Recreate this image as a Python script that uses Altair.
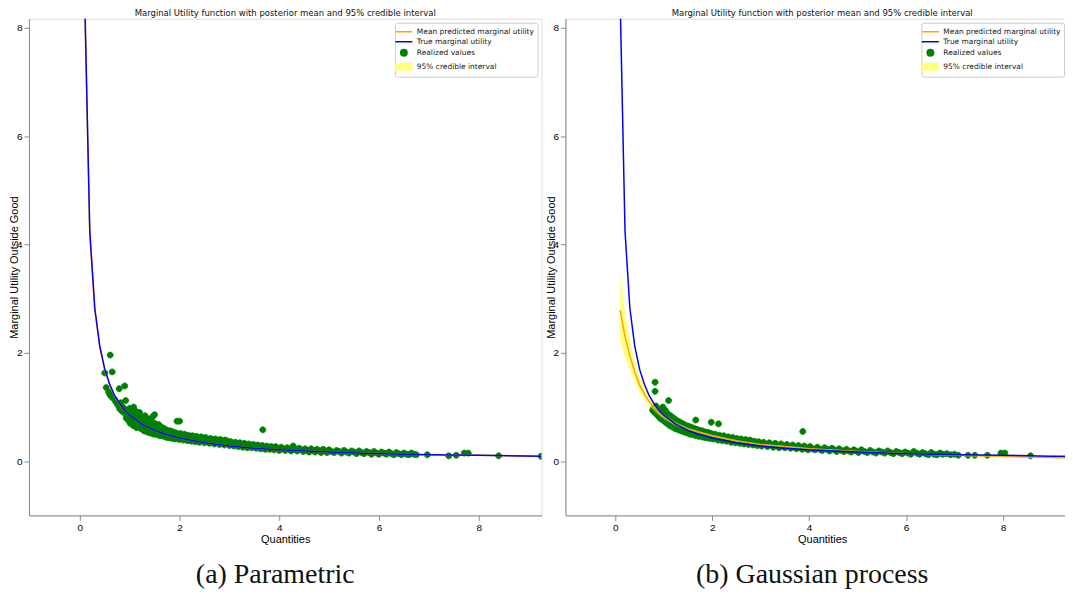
import altair as alt
import pandas as pd

TITLE = "Marginal Utility function with posterior mean and 95% credible interval"
SERIES = ["Mean predicted marginal utility", "True marginal utility",
          "Realized values", "95% credible interval"]
LEG_COLORS = ["#ffa500", "#0000ff", "#008000", "#ffff80"]
LINE_PATH = "M-1.7,0H1.7"
CIRC_PATH = "M0.64,0A0.64,0.64,0,1,1,-0.64,0A0.64,0.64,0,1,1,0.64,0Z"
RECT_PATH = "M-1.6,-0.65H1.6V0.65H-1.6Z"
SHAPES = [LINE_PATH, LINE_PATH, CIRC_PATH, RECT_PATH]
TICKS = [0, 2, 4, 6, 8]

# ---------------- (a) Parametric ----------------
left_curve_x = [0.1, 0.2, 0.3, 0.4, 0.5, 0.6, 0.7, 0.8, 0.9, 1.0, 1.25, 1.5, 1.75,
                2.0, 2.5, 3.0, 3.5, 4.0, 5.0, 6.0, 7.0, 8.0, 9.25]
left_true = [8.50, 4.25, 2.83, 2.13, 1.70, 1.42, 1.21, 1.06, 0.94, 0.85, 0.68, 0.57, 0.49,
             0.43, 0.34, 0.28, 0.24, 0.21, 0.17, 0.14, 0.12, 0.11, 0.09]
left_mean = [8.40, 4.21, 2.81, 2.11, 1.69, 1.41, 1.20, 1.05, 0.94, 0.85, 0.68, 0.57, 0.49,
             0.43, 0.34, 0.28, 0.24, 0.21, 0.17, 0.14, 0.12, 0.11, 0.09]
left_lo = [8.10, 4.08, 2.73, 2.06, 1.65, 1.38, 1.18, 1.03, 0.92, 0.83, 0.67, 0.56, 0.48,
           0.42, 0.335, 0.275, 0.235, 0.205, 0.165, 0.137, 0.117, 0.103, 0.087]
left_hi = [8.70, 4.34, 2.89, 2.16, 1.73, 1.44, 1.22, 1.07, 0.96, 0.87, 0.69, 0.58, 0.50,
           0.44, 0.345, 0.285, 0.245, 0.215, 0.175, 0.143, 0.123, 0.107, 0.093]
left_points = [
    (0.50, 1.63), (0.53, 1.36), (0.61, 1.96), (0.65, 1.65), (0.58, 1.28), (0.60, 1.24),
    (0.62, 1.21), (0.79, 1.34), (0.90, 1.39), (0.66, 1.17), (0.70, 1.14), (0.72, 1.10),
    (0.75, 1.06), (0.78, 1.02), (0.80, 0.97), (0.82, 1.08), (0.84, 0.93), (0.86, 1.00),
    (0.88, 0.90), (0.90, 0.96), (0.92, 1.12), (0.93, 0.80), (0.95, 0.88), (0.97, 0.76),
    (1.00, 0.98), (1.00, 0.84), (1.01, 0.70), (1.03, 0.92), (1.04, 0.78), (1.06, 0.86),
    (1.07, 0.66), (1.08, 1.00), (1.10, 0.74), (1.11, 0.82), (1.13, 0.92), (1.14, 0.62),
    (1.16, 0.76), (1.17, 0.84), (1.19, 0.68), (1.20, 0.90), (1.22, 0.72), (1.23, 0.60),
    (1.25, 0.80), (1.26, 0.66), (1.28, 0.74), (1.29, 0.56), (1.31, 0.84), (1.32, 0.64),
    (1.34, 0.70), (1.35, 0.54), (1.37, 0.78), (1.38, 0.60), (1.40, 0.66), (1.41, 0.52),
    (1.43, 0.74), (1.44, 0.58), (1.46, 0.82), (1.47, 0.63), (1.48, 0.50), (1.50, 0.86),
    (1.50, 0.70), (1.52, 0.56), (1.53, 0.64), (1.55, 0.49), (1.56, 0.60), (1.58, 0.68),
    (1.59, 0.53), (1.61, 0.47), (1.62, 0.58), (1.64, 0.63), (1.65, 0.51), (1.67, 0.55),
    (1.68, 0.46), (1.70, 0.60), (1.71, 0.50), (1.73, 0.54), (1.74, 0.44), (1.76, 0.57),
    (1.77, 0.48), (1.79, 0.52), (1.80, 0.43), (1.82, 0.56), (1.83, 0.47), (1.85, 0.50),
    (1.86, 0.42), (1.88, 0.54), (1.89, 0.46), (1.91, 0.49), (1.92, 0.41), (1.94, 0.52),
    (1.95, 0.74), (1.96, 0.45), (1.98, 0.48), (2.00, 0.74), (2.00, 0.40),
    (2.02, 0.51), (2.04, 0.44), (2.06, 0.47), (2.08, 0.39), (2.10, 0.50), (2.12, 0.43),
    (2.14, 0.46), (2.16, 0.38), (2.18, 0.48), (2.20, 0.42), (2.22, 0.45), (2.24, 0.37),
    (2.26, 0.47), (2.28, 0.41), (2.30, 0.44), (2.32, 0.36), (2.34, 0.46), (2.36, 0.40),
    (2.38, 0.43), (2.40, 0.35), (2.43, 0.45), (2.45, 0.39), (2.47, 0.42), (2.50, 0.34),
    (2.52, 0.44), (2.55, 0.38), (2.57, 0.41), (2.60, 0.33), (2.62, 0.42), (2.65, 0.37),
    (2.67, 0.40), (2.70, 0.32), (2.72, 0.41), (2.75, 0.36), (2.77, 0.39), (2.80, 0.31),
    (2.82, 0.40), (2.85, 0.35), (2.87, 0.38), (2.90, 0.30), (2.92, 0.39), (2.95, 0.34),
    (2.97, 0.37), (3.00, 0.29), (3.03, 0.36), (3.06, 0.33), (3.09, 0.28), (3.12, 0.35),
    (3.15, 0.31), (3.18, 0.27), (3.21, 0.34), (3.24, 0.30), (3.27, 0.26), (3.30, 0.33),
    (3.33, 0.29), (3.36, 0.25), (3.39, 0.32), (3.42, 0.28), (3.45, 0.25), (3.48, 0.31),
    (3.51, 0.27), (3.54, 0.24), (3.57, 0.30), (3.60, 0.26), (3.63, 0.23), (3.67, 0.58),
    (3.66, 0.29), (3.69, 0.25), (3.72, 0.22), (3.75, 0.28), (3.78, 0.25), (3.81, 0.22),
    (3.84, 0.27), (3.87, 0.24), (3.90, 0.21), (3.93, 0.27), (3.96, 0.23),
    (4.00, 0.20), (4.04, 0.26), (4.08, 0.23), (4.12, 0.20), (4.16, 0.25), (4.20, 0.22),
    (4.24, 0.19), (4.28, 0.28), (4.32, 0.22), (4.36, 0.19), (4.40, 0.24), (4.44, 0.21),
    (4.48, 0.18), (4.52, 0.23), (4.56, 0.20), (4.60, 0.17), (4.64, 0.23), (4.68, 0.20),
    (4.72, 0.17), (4.76, 0.22), (4.80, 0.19), (4.84, 0.16), (4.88, 0.22), (4.92, 0.19),
    (4.96, 0.16), (5.00, 0.21), (5.05, 0.18), (5.10, 0.16), (5.15, 0.20), (5.20, 0.18),
    (5.25, 0.15), (5.30, 0.20), (5.35, 0.17), (5.40, 0.15), (5.45, 0.19), (5.50, 0.17),
    (5.55, 0.14), (5.60, 0.19), (5.65, 0.16), (5.70, 0.14), (5.75, 0.18), (5.80, 0.16),
    (5.85, 0.13), (5.90, 0.18), (5.95, 0.15), (6.00, 0.13), (6.05, 0.17), (6.10, 0.15),
    (6.15, 0.13), (6.20, 0.17), (6.25, 0.14), (6.30, 0.12), (6.35, 0.16), (6.40, 0.14),
    (6.45, 0.12), (6.50, 0.15), (6.55, 0.13), (6.60, 0.12), (6.65, 0.15), (6.70, 0.13),
    (6.75, 0.12), (6.97, 0.12), (7.40, 0.10), (7.55, 0.11), (7.71, 0.15), (7.79, 0.15),
    (8.40, 0.10), (9.25, 0.09),
]

# ---------------- (b) Gaussian process ----------------
right_curve_x = [0.1, 0.2, 0.3, 0.4, 0.5, 0.6, 0.7, 0.8, 0.9, 1.0, 1.25, 1.5, 1.75,
                 2.0, 2.5, 3.0, 3.5, 4.0, 5.0, 6.0, 7.0, 8.0, 9.0, 9.6]
right_true = [8.50, 4.25, 2.83, 2.13, 1.70, 1.42, 1.21, 1.06, 0.94, 0.85, 0.68, 0.57, 0.49,
              0.43, 0.34, 0.28, 0.24, 0.21, 0.17, 0.14, 0.12, 0.11, 0.094, 0.089]
right_mean = [2.79, 2.30, 1.95, 1.65, 1.41, 1.24, 1.10, 0.99, 0.90, 0.82, 0.68, 0.59, 0.53,
              0.47, 0.375, 0.31, 0.27, 0.23, 0.18, 0.14, 0.11, 0.09, 0.07, 0.06]
right_lo = [2.23, 1.92, 1.70, 1.47, 1.28, 1.14, 1.02, 0.93, 0.85, 0.78, 0.65, 0.57, 0.51,
            0.45, 0.36, 0.30, 0.26, 0.22, 0.17, 0.13, 0.10, 0.075, 0.055, 0.045]
right_hi = [3.48, 2.75, 2.25, 1.85, 1.56, 1.35, 1.19, 1.06, 0.96, 0.87, 0.72, 0.62, 0.55,
            0.49, 0.39, 0.32, 0.28, 0.24, 0.19, 0.15, 0.12, 0.10, 0.085, 0.075]
right_points = [
    (0.82, 1.46), (0.82, 1.29), (0.77, 0.94), (0.79, 0.98), (0.81, 0.90), (0.84, 1.02),
    (0.86, 0.86), (0.88, 0.96), (0.90, 0.82), (0.92, 0.92), (0.94, 0.78), (0.96, 0.88),
    (0.98, 1.00), (1.00, 0.84), (1.01, 0.74), (1.03, 0.94), (1.05, 0.80), (1.06, 0.70),
    (1.08, 0.88), (1.10, 1.12), (1.10, 0.76), (1.12, 0.66), (1.14, 0.84), (1.16, 0.72),
    (1.18, 0.63), (1.20, 0.80), (1.22, 0.69), (1.24, 0.60), (1.26, 0.76), (1.28, 0.66),
    (1.30, 0.58), (1.32, 0.73), (1.34, 0.63), (1.36, 0.56), (1.38, 0.70), (1.40, 0.61),
    (1.42, 0.54), (1.44, 0.67), (1.46, 0.59), (1.48, 0.52), (1.50, 0.65), (1.52, 0.57),
    (1.54, 0.50), (1.56, 0.63), (1.58, 0.55), (1.60, 0.49), (1.62, 0.61), (1.64, 0.54),
    (1.66, 0.76), (1.66, 0.47), (1.68, 0.59), (1.70, 0.52), (1.72, 0.46), (1.74, 0.57),
    (1.76, 0.51), (1.78, 0.45), (1.80, 0.56), (1.82, 0.49), (1.84, 0.44), (1.86, 0.54),
    (1.88, 0.48), (1.90, 0.43), (1.92, 0.53), (1.94, 0.47), (1.96, 0.42), (1.98, 0.72),
    (1.98, 0.51), (2.00, 0.46), (2.03, 0.41), (2.06, 0.50), (2.09, 0.44), (2.12, 0.39),
    (2.13, 0.69), (2.15, 0.48), (2.18, 0.43), (2.21, 0.38), (2.24, 0.47), (2.27, 0.41),
    (2.30, 0.37), (2.33, 0.45), (2.36, 0.40), (2.39, 0.35), (2.42, 0.44), (2.45, 0.39),
    (2.48, 0.34), (2.51, 0.42), (2.54, 0.38), (2.57, 0.33), (2.60, 0.41), (2.63, 0.36),
    (2.66, 0.32), (2.69, 0.40), (2.72, 0.35), (2.75, 0.31), (2.78, 0.39), (2.81, 0.34),
    (2.84, 0.30), (2.87, 0.37), (2.90, 0.33), (2.93, 0.29), (2.96, 0.36), (2.99, 0.32),
    (3.02, 0.28), (3.06, 0.35), (3.10, 0.31), (3.14, 0.27), (3.18, 0.34), (3.22, 0.30),
    (3.26, 0.26), (3.30, 0.33), (3.34, 0.29), (3.38, 0.25), (3.42, 0.32), (3.46, 0.28),
    (3.50, 0.25), (3.54, 0.31), (3.58, 0.27), (3.62, 0.24), (3.66, 0.30), (3.70, 0.26),
    (3.74, 0.23), (3.78, 0.29), (3.82, 0.25), (3.86, 0.22), (3.87, 0.55), (3.90, 0.28),
    (3.94, 0.24), (3.98, 0.21), (4.02, 0.27), (4.07, 0.23), (4.12, 0.21), (4.17, 0.26),
    (4.22, 0.22), (4.27, 0.20), (4.32, 0.25), (4.37, 0.22), (4.42, 0.19), (4.47, 0.24),
    (4.52, 0.21), (4.57, 0.18), (4.62, 0.23), (4.67, 0.20), (4.72, 0.18), (4.77, 0.22),
    (4.82, 0.19), (4.87, 0.17), (4.92, 0.21), (4.97, 0.19), (5.02, 0.16), (5.08, 0.21),
    (5.14, 0.18), (5.20, 0.16), (5.26, 0.20), (5.32, 0.17), (5.38, 0.15), (5.44, 0.19),
    (5.50, 0.17), (5.56, 0.15), (5.62, 0.19), (5.68, 0.16), (5.74, 0.14), (5.80, 0.18),
    (5.86, 0.16), (5.92, 0.14), (5.98, 0.17), (6.04, 0.15), (6.10, 0.13), (6.16, 0.18),
    (6.22, 0.15), (6.28, 0.13), (6.34, 0.16), (6.40, 0.14), (6.46, 0.12), (6.52, 0.16),
    (6.58, 0.13), (6.64, 0.12), (6.70, 0.15), (6.76, 0.13), (6.84, 0.14), (6.92, 0.12),
    (7.00, 0.13), (7.08, 0.11), (7.28, 0.11), (7.42, 0.11), (7.68, 0.11), (7.96, 0.15),
    (8.04, 0.15), (8.57, 0.10),
]


def panel(curve_x, true_y, mean_y, lo_y, hi_y, points, xdom, width, caption, leg_pos):
    curve = pd.DataFrame({"x": curve_x, "true": true_y, "mean": mean_y,
                          "lo": lo_y, "hi": hi_y})
    pts = pd.DataFrame(points, columns=["x", "y"])
    pts["series"] = "Realized values"

    xs = alt.Scale(domain=xdom, nice=False, zero=False)
    ys = alt.Scale(domain=[-1.0, 8.17], nice=False, zero=False)
    xax = alt.Axis(values=TICKS, format="d", title="Quantities", grid=False,
                   titleFontWeight="normal", titlePadding=1, minExtent=0)
    yax = alt.Axis(values=TICKS, format="d", title="Marginal Utility Outside Good",
                   grid=False, titleFontWeight="normal", minExtent=0,
                   titleX=-14, titleY=249, titleAngle=270, titleAlign="center",
                   titleBaseline="middle")

    leg_kw = dict(title=None, padding=3,
                  strokeColor="#cccccc", fillColor="white", cornerRadius=2,
                  labelFont="DejaVu Sans", labelFontSize=7.5, labelColor="#222222",
                  symbolSize=100, symbolStrokeWidth=1.5, rowPadding=0,
                  symbolOffset=0, labelOffset=7)
    if leg_pos is None:
        leg = alt.Legend(orient="top-right", offset=4, **leg_kw)
    else:
        leg = alt.Legend(orient="none", legendX=leg_pos[0], legendY=leg_pos[1], **leg_kw)

    scatter = alt.Chart(pts).mark_point(filled=True, size=88, opacity=1,
                                        strokeWidth=0.8, clip=True).encode(
        x=alt.X("x:Q", scale=xs, axis=xax),
        y=alt.Y("y:Q", scale=ys, axis=yax),
        fill=alt.Fill("series:N", scale=alt.Scale(domain=SERIES, range=LEG_COLORS), legend=leg),
        stroke=alt.Stroke("series:N", scale=alt.Scale(domain=SERIES, range=LEG_COLORS), legend=leg),
        shape=alt.Shape("series:N", scale=alt.Scale(domain=SERIES, range=SHAPES), legend=leg),
    )
    base = alt.Chart(curve)
    band = base.mark_area(color="#ffff00", opacity=0.5, clip=True).encode(
        x="x:Q", y="lo:Q", y2="hi:Q")
    mean = base.mark_line(color="#ffa500", strokeWidth=1.5, clip=True).encode(
        x="x:Q", y="mean:Q")
    true = base.mark_line(color="#0000ff", strokeWidth=1.5, clip=True).encode(
        x="x:Q", y="true:Q")

    layered = alt.layer(scatter, band, mean, true).properties(
        width=width, height=498,
        title=alt.TitleParams(TITLE, font="DejaVu Sans", fontSize=8.5,
                              fontWeight="normal", color="#111111", offset=1))
    return alt.vconcat(layered).properties(
        title=alt.TitleParams(caption, orient="bottom", anchor="middle",
                              font="Liberation Serif", fontSize=28,
                              fontWeight="normal", color="#111111", offset=16)
    ).resolve_scale(fill="independent", stroke="independent", shape="independent")


left = panel(left_curve_x, left_true, left_mean, left_lo, left_hi, left_points,
             [-1.02, 9.26], 514, "(a) Parametric", None)
right = panel(right_curve_x, right_true, right_mean, right_lo, right_hi, right_points,
              [-1.03, 9.57], 515, "(b) Gaussian process", (357, 4))

chart = alt.hconcat(left, right, spacing=2).resolve_scale(
    x="independent", y="independent",
    fill="independent", stroke="independent", shape="independent",
).properties(
    padding={"left": 0, "top": 0, "right": -15, "bottom": -1}
).configure_view(
    stroke="#555555", strokeWidth=1
).configure_axis(
    labelFont="DejaVu Sans", labelFontSize=6.3, labelColor="#222222",
    titleFont="DejaVu Sans", titleFontSize=6.3, titleFontWeight="normal",
    titleColor="#111111", tickColor="#222222", tickSize=4, tickWidth=0.8,
    domain=False, labelPadding=1.5,
).configure(background="white")

chart.save("out.html", embed_options={"renderer": "svg", "actions": False})
